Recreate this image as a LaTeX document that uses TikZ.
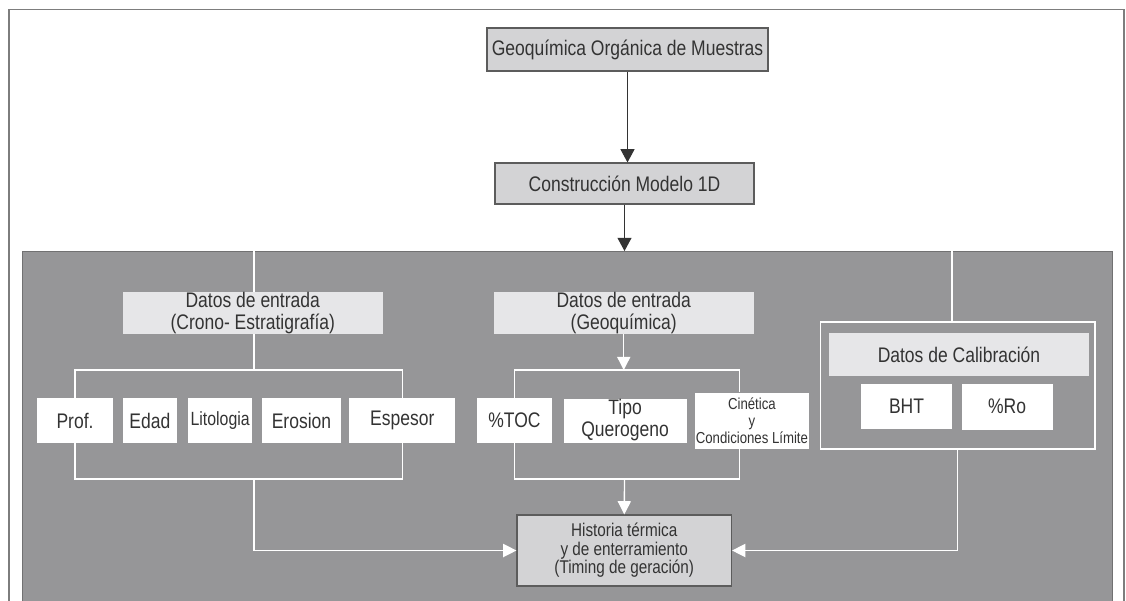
\documentclass[tikz,border=0pt]{standalone}
\usepackage{fontspec}
\setmainfont{Liberation Sans}[FakeStretch=0.83]
\usetikzlibrary{arrows.meta, positioning}
\definecolor{panelgray}{HTML}{969698}
\definecolor{boxgray}{HTML}{D3D3D5}
\definecolor{hdrgray}{HTML}{E6E6E8}
\definecolor{edgegray}{HTML}{5C5C5C}
\definecolor{inkgray}{HTML}{333333}
\newcommand{\pxu}{0.025cm}
\tikzset{
  sz/.style 2 args = {minimum width=#1*\pxu, minimum height=#2*\pxu},
  base/.style = {align=center, inner sep=0pt, text=inkgray,
    font=\fontsize{15}{15.6}\selectfont},
  topbox/.style = {base, fill=boxgray, draw=edgegray, line width=0.85pt},
  hdrbox/.style = {base, fill=hdrgray},
  item/.style = {base, fill=white},
  wline/.style = {white, line width=0.95pt},
  warrow/.style = {wline, -{Triangle[length=0.33cm, width=0.33cm]}},
  barrow/.style = {inkgray, line width=0.7pt, -{Triangle[length=0.33cm, width=0.35cm]}}
}

\begin{document}
\begin{tikzpicture}[x=\pxu, y=-\pxu]
\clip (0,0) rectangle (1126,600);
\fill[white] (0,0) rectangle (1126,600);
\draw[edgegray!80, line width=0.9pt] (9,9.5) rectangle (1124,640);

\node[topbox, sz={281}{43}] (muestras) at (627.5,49.5) {Geoquímica Orgánica de Muestras};
\node[topbox, sz={259}{41}] (modelo) at (624.5,183.5) {Construcción Modelo 1D};
\node[fill=panelgray, draw=panelgray!75!black, line width=0.6pt, inner sep=0pt,
  sz={1090}{400}, anchor=north west] (panel) at (22,251) {};

\node[hdrbox, sz={260.5}{42}] (crono) at (252.75,313) {Datos de entrada\\(Crono- Estratigrafía)};
\node[hdrbox, sz={259.5}{42}] (geoq) at (623.75,313) {Datos de entrada\\(Geoquímica)};

\node[item, sz={76}{45}] (prof) at (75,420.5) {Prof.};
\node[item, sz={53.5}{45}, right=0.2375cm of prof] (edad) {Edad};
\node[item, sz={64}{45}, right=0.275cm of edad, font=\fontsize{13.6}{15}\selectfont] (lito) {Litologia};
\node[item, sz={79.5}{45}, right=0.225cm of lito] (eros) {Erosion};
\node[item, sz={106}{45}, right=0.1875cm of eros] (espe) {Espesor};

\node[item, sz={75}{45}] (toc) at (514.5,420.5) {\%TOC};
\node[item, sz={123}{44}, right=0.275cm of toc] (tipo) {Tipo\\Querogeno};
\node[item, sz={114.4}{56}, right=0.19cm of tipo, font=\fontsize{11.3}{12.1}\selectfont]
  (cine) {Cinética\\y\\Condiciones Límite};

\node[draw=white, line width=1.1pt, inner sep=0pt, sz={274.5}{127}] (calib) at (957.75,385.5) {};
\node[hdrbox, sz={260}{43}] (calibt) at (959,354.5) {Datos de Calibración};
\node[item, sz={91}{45}] (bht) at (906.5,406.5) {BHT};
\node[item, sz={91}{46}, right=0.225cm of bht] (ro) {\%Ro};

\node[topbox, sz={214.5}{71}, font=\fontsize{13.1}{13.2}\selectfont]
  (hist) at (624.25,550.5) {Historia térmica\\y de enterramiento\\(Timing de geración)};

\coordinate (g1) at (254,251);
\coordinate (g3) at (952,251);
\coordinate (b1t) at (254,370);
\coordinate (b1b) at (254,479);
\coordinate (b2t) at (623.75,370);
\coordinate (b2r) at (739.5,370);
\coordinate (b2b) at (624.5,479);

\draw[barrow] (muestras.south) -- (muestras.south |- modelo.north);
\draw[barrow] (modelo) -- (modelo.south |- panel.north);

\draw[wline] (g1) -- (g1 |- crono.north);
\draw[wline] (g1 |- crono.south) -- (b1t);
\draw[wline] (prof.north) |- (b1t) -| (espe.north);
\draw[wline] (prof.south) |- (b1b) -| (espe.south);
\draw[warrow] (b1b) |- (hist.west);

\draw[warrow] (geoq.south) -- (b2t);
\draw[wline] (toc.north) |- (b2t) -- (b2r) -- (b2r |- cine.north);
\draw[wline] (toc.south) |- (b2b) -| (b2r |- cine.south);
\draw[warrow] (b2b) -- (hist.north);

\draw[wline] (g3) -- (g3 |- calib.north);
\draw[warrow] (calib.south) |- (hist.east);
\end{tikzpicture}
\end{document}
